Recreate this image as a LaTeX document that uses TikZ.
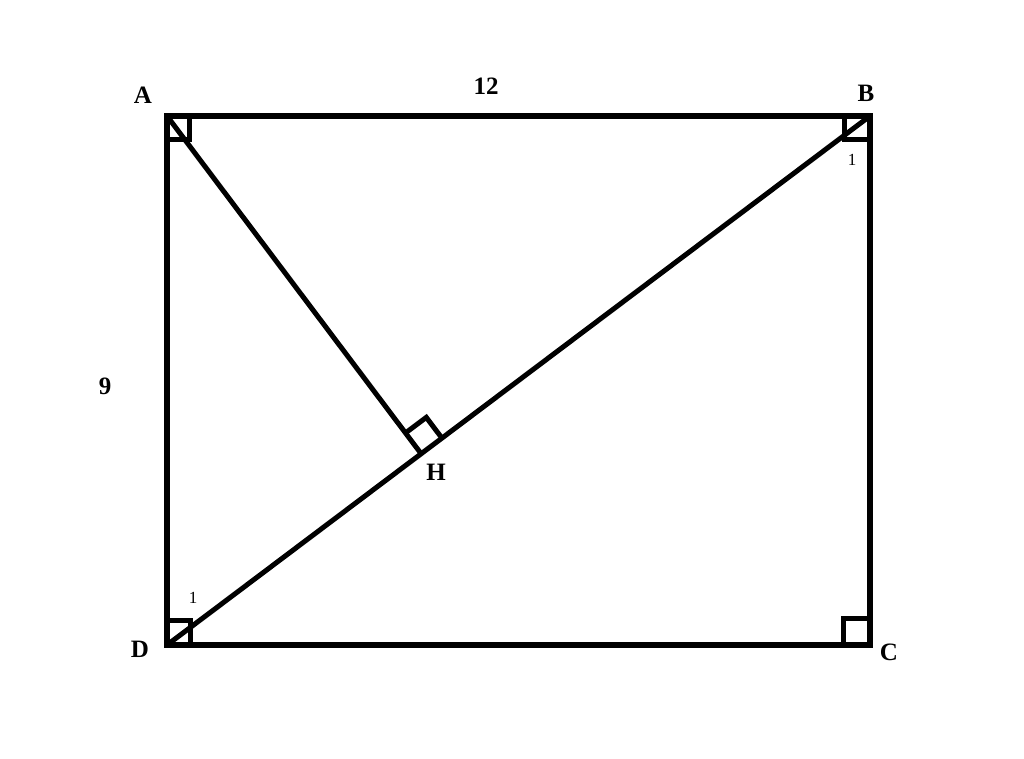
\documentclass[tikz,border=0pt]{standalone}
\usepackage{fontspec}
\setmainfont{Liberation Serif}
\usetikzlibrary{calc}
\begin{document}
\begin{tikzpicture}[x=1pt,y=-1pt,
  edge/.style={line width=6pt,line cap=rect,line join=miter},
  seg/.style={line width=5pt,line cap=butt},
  rmark/.style={line width=5pt,line join=miter},
  lbl/.style={font=\fontsize{25}{25}\selectfont\bfseries,inner sep=0pt},
  small/.style={font=\fontsize{17}{17}\selectfont,inner sep=0pt}]
\useasboundingbox (0,0) rectangle (1024,759);
\coordinate (A) at (167,116);
\coordinate (B) at (870,116);
\coordinate (C) at (870,645);
\coordinate (D) at (167,645);
\coordinate (H) at ($(D)!(A)!(B)$);
% rectangle and segments
\draw[edge] (A) -- (B) -- (C) -- (D) -- cycle;
\draw[seg] (D) -- (B);
\draw[seg] (A) -- (H);
% right angle marks
\draw[rmark] ($(A)+(0,24)$) -| ($(A)+(22,0)$);
\draw[rmark] ($(B)+(-26,0)$) |- ($(B)+(0,24)$);
\draw[rmark] ($(C)+(-27,0)$) |- ($(C)+(0,-27)$);
\draw[rmark] ($(D)+(0,-25)$) -| ($(D)+(23,0)$);
\coordinate (Hu) at ($(H)!26pt!(B)$);
\coordinate (Hv) at ($(H)!26pt!(A)$);
\coordinate (Hw) at ($(Hu)+(Hv)-(H)$);
\draw[rmark] (Hu) -- (Hw) -- (Hv);
% labels
\node[lbl] (lA) at (143,95) {A};
\node[lbl] (lB) at (866,93) {B};
\node[lbl] (lC) at (889,652) {C};
\node[lbl] (lD) at (140,649) {D};
\node[lbl] (lH) at (436,472) {H};
\node[lbl] (l12) at (486,86) {12};
\node[lbl] (l9) at (105,386) {9};
\node[small] (l1b) at (852,160) {1};
\node[small] (l1d) at (193,598) {1};
\end{tikzpicture}
\end{document}
